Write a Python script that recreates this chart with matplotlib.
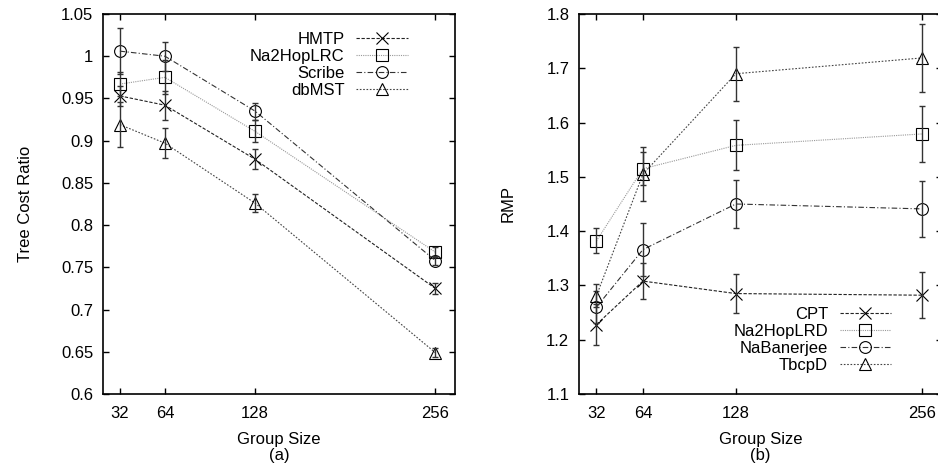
import matplotlib
matplotlib.use("Agg")
import matplotlib.pyplot as plt

plt.rcParams['font.family'] = ['Liberation Sans', 'DejaVu Sans']
plt.rcParams['font.size'] = 12

# group sizes on the x axis
group_sizes = [32, 64, 128, 256]

# (a) tree cost ratio
a_names = ["HMTP", "Na2HopLRC", "Scribe", "dbMST"]
hmtp = [0.953, 0.942, 0.878, 0.725]
hmtp_err = [0.012, 0.017, 0.012, 0.006]
na2lrc = [0.967, 0.975, 0.911, 0.768]
na2lrc_err = [0.014, 0.020, 0.013, 0.006]
scribe = [1.006, 1.000, 0.935, 0.758]
scribe_err = [0.027, 0.017, 0.010, 0.005]
dbmst = [0.919, 0.897, 0.826, 0.649]
dbmst_err = [0.027, 0.018, 0.011, 0.005]

# (b) RMP
b_names = ["CPT", "Na2HopLRD", "NaBanerjee", "TbcpD"]
cpt = [1.228, 1.308, 1.285, 1.282]
cpt_err = [0.037, 0.033, 0.036, 0.042]
na2lrd = [1.382, 1.515, 1.558, 1.579]
na2lrd_err = [0.023, 0.030, 0.046, 0.052]
nabanerjee = [1.260, 1.366, 1.450, 1.441]
nabanerjee_err = [0.030, 0.049, 0.045, 0.052]
tbcpd = [1.281, 1.505, 1.690, 1.719]
tbcpd_err = [0.021, 0.050, 0.050, 0.062]

# gnuplot-ish line styles
styles = [
    dict(marker='x', ls=(0, (3, 1.5)), color='#222222'),
    dict(marker='s', ls=(0, (1, 1)), color='#999999'),
    dict(marker='o', ls=(0, (5, 2, 1, 2)), color='#333333'),
    dict(marker='^', ls=(0, (1.5, 1.5)), color='#444444'),
]

fig = plt.figure(figsize=(9.38, 4.65), dpi=100)
ax1 = fig.add_axes([0.1098, 0.1527, 0.3753, 0.8172])
ax2 = fig.add_axes([0.6173, 0.1527, 0.387, 0.8172])


def draw(ax, names, series, errs):
    for name, y, e, st in zip(names, series, errs, styles):
        ax.plot(group_sizes, y, linestyle=st['ls'], color=st['color'], lw=0.8,
                marker=st['marker'], mfc='none', mec='black', mew=0.8, ms=8.5,
                label=name)
        ax.errorbar(group_sizes, y, yerr=e, fmt='none', ecolor='#333333',
                    elinewidth=1.0, capsize=2.5, capthick=1.0)
    ax.set_xlim(20, 270)
    ax.set_xticks(group_sizes)
    ax.tick_params(direction='in', top=True, right=True, length=4, width=1)
    ax.tick_params(axis='y', pad=7)
    ax.tick_params(axis='x', pad=9)
    for sp in ax.spines.values():
        sp.set_linewidth(1.2)


draw(ax1, a_names, [hmtp, na2lrc, scribe, dbmst],
     [hmtp_err, na2lrc_err, scribe_err, dbmst_err])
ax1.set_ylim(0.6, 1.05)
ax1.set_yticks([0.6, 0.65, 0.7, 0.75, 0.8, 0.85, 0.9, 0.95, 1.0, 1.05])
ax1.set_yticklabels(["0.6", "0.65", "0.7", "0.75", "0.8", "0.85", "0.9",
                     "0.95", "1", "1.05"])
ax1.set_ylabel("Tree Cost Ratio")
ax1.yaxis.set_label_coords(-0.199, 0.5)
ax1.set_xlabel("Group Size\n(a)", linespacing=1.1)
ax1.xaxis.set_label_coords(0.5, -0.1)
ax1.legend(loc='upper right', bbox_to_anchor=(0.866, 0.952), frameon=False,
           markerfirst=False, numpoints=1, handlelength=3.1,
           handletextpad=0.7, labelspacing=0.12, borderpad=0, borderaxespad=0)

draw(ax2, b_names, [cpt, na2lrd, nabanerjee, tbcpd],
     [cpt_err, na2lrd_err, nabanerjee_err, tbcpd_err])
ax2.set_ylim(1.1, 1.8)
ax2.set_yticks([1.1, 1.2, 1.3, 1.4, 1.5, 1.6, 1.7, 1.8])
ax2.set_ylabel("RMP")
ax2.yaxis.set_label_coords(-0.174, 0.5)
ax2.set_xlabel("Group Size\n(b)", linespacing=1.1)
ax2.xaxis.set_label_coords(0.5, -0.1)
ax2.legend(loc='upper right', bbox_to_anchor=(0.86, 0.23), frameon=False,
           markerfirst=False, numpoints=1, handlelength=3.1,
           handletextpad=0.7, labelspacing=0.12, borderpad=0, borderaxespad=0)

fig.savefig("out.png", dpi=100)
